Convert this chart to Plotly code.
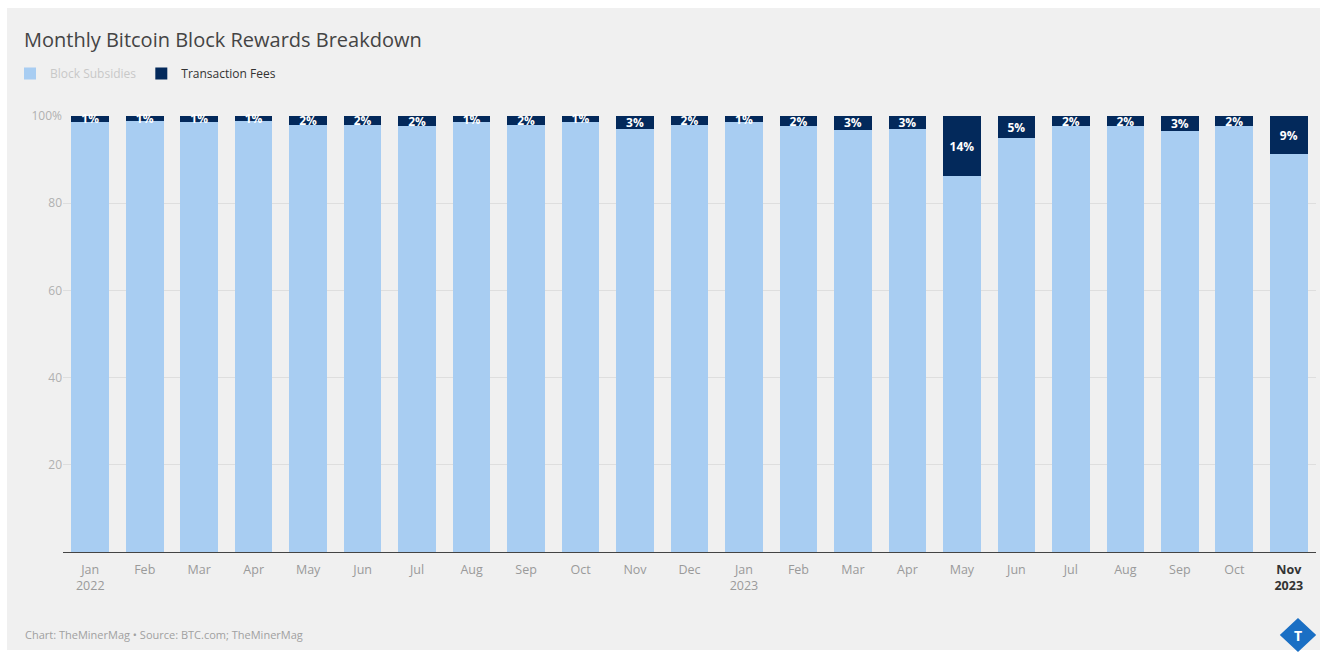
import plotly.graph_objects as go

months = ["Jan", "Feb", "Mar", "Apr", "May", "Jun", "Jul", "Aug", "Sep", "Oct", "Nov", "Dec",
          "Jan", "Feb", "Mar", "Apr", "May", "Jun", "Jul", "Aug", "Sep", "Oct", "Nov"]
years = [2022] * 12 + [2023] * 11
categories = [f"{m} {y}" for m, y in zip(months, years)]

fees = [1.3, 1.2, 1.3, 1.2, 2.1, 2.0, 2.3, 1.4, 2.0, 1.3, 2.9, 2.1,
        1.4, 2.4, 3.2, 3.0, 13.8, 5.1, 2.4, 2.3, 3.4, 2.3, 8.8]
subsidies = [round(100 - f, 1) for f in fees]

tick_text = []
for i, (m, y) in enumerate(zip(months, years)):
    if i == len(months) - 1:
        tick_text.append(f"<b><span style='color:#333333'>{m}<br>{y}</span></b>")
    elif m == "Jan":
        tick_text.append(f"{m}<br>{y}")
    else:
        tick_text.append(m)

LIGHT = "#a8cdf2"
DARK = "#03295b"
BG = "#f0f0f0"
FONT = "Open Sans"

L, R, T, B = 63, 10, 116, 103
W, H = 1326, 655
pw, ph = W - L - R, H - T - B

def px_x(p):
    return (p - L) / pw

def px_y(p):
    return (H - B - p) / ph

fig = go.Figure()
fig.add_trace(go.Bar(
    x=categories, y=subsidies, name="<span style='color:#c8c8c8'>Block Subsidies</span>",
    marker=dict(color=LIGHT, line=dict(width=0)), hoverinfo="skip",
))
fig.add_trace(go.Bar(
    x=categories, y=fees, name="Transaction Fees",
    marker=dict(color=DARK, line=dict(width=0)),
    text=[f"{f:.0f}%" for f in fees], textposition="inside",
    insidetextanchor="middle", textangle=0,
    textfont=dict(color="white", size=12, family=FONT, weight="bold"),
    cliponaxis=False,
))

fig.update_layout(
    barmode="stack",
    bargap=0.31,
    width=W, height=H,
    margin=dict(l=L, r=R, t=T, b=B, autoexpand=False),
    paper_bgcolor="white",
    plot_bgcolor=BG,
    font=dict(family=FONT, color="#333333"),
    uniformtext=dict(mode="show", minsize=12),
    showlegend=True,
    legend=dict(orientation="h", x=px_x(10), y=px_y(59), xanchor="left", yanchor="top",
                font=dict(size=12, color="#333333", family=FONT),
                bgcolor="rgba(0,0,0,0)", itemwidth=30, tracegroupgap=0,
                traceorder="normal"),
    xaxis=dict(
        type="category", tickmode="array", tickvals=categories, ticktext=tick_text,
        tickfont=dict(size=12.5, color="#9a9a9a", family=FONT),
        showline=True, linecolor="#444444", linewidth=1,
        showgrid=False, ticks="", zeroline=False, ticklabelstandoff=6,
    ),
    yaxis=dict(
        range=[0, 100], tickmode="array", tickvals=[20, 40, 60, 80, 100],
        ticktext=["20", "40", "60", "80", "100%"],
        tickfont=dict(size=12, color="#b0b0b0", family=FONT),
        showgrid=True, gridcolor="#dedede", gridwidth=1,
        zeroline=False, ticks="", showline=False,
    ),
    shapes=[
        dict(type="rect", xref="paper", yref="paper",
             x0=px_x(7), x1=px_x(1320), y0=px_y(650), y1=px_y(8),
             fillcolor=BG, line=dict(width=0), layer="below"),
        dict(type="path", xref="paper", yref="paper",
             path=(f"M {px_x(1298)},{px_y(620)} L {px_x(1314)},{px_y(635)} "
                   f"L {px_x(1298)},{px_y(650)} L {px_x(1282)},{px_y(635)} Z"),
             fillcolor="#1a6fc4", line=dict(color="#1a6fc4", width=3), layer="above"),
    ],
    annotations=[
        dict(text="Monthly Bitcoin Block Rewards Breakdown", xref="paper", yref="paper",
             x=px_x(22), y=px_y(39), xanchor="left", yanchor="middle", showarrow=False,
             font=dict(size=20, color="#444444", family=FONT)),
        dict(text="Chart: TheMinerMag • Source: BTC.com; TheMinerMag", xref="paper", yref="paper",
             x=px_x(23), y=px_y(634), xanchor="left", yanchor="middle", showarrow=False,
             font=dict(size=11, color="#a0a0a0", family=FONT)),
        dict(text="<b>T</b>", xref="paper", yref="paper",
             x=px_x(1298), y=px_y(635), xanchor="center", yanchor="middle", showarrow=False,
             font=dict(size=14, color="white", family=FONT)),
    ],
)

fig.write_html("out.html")
